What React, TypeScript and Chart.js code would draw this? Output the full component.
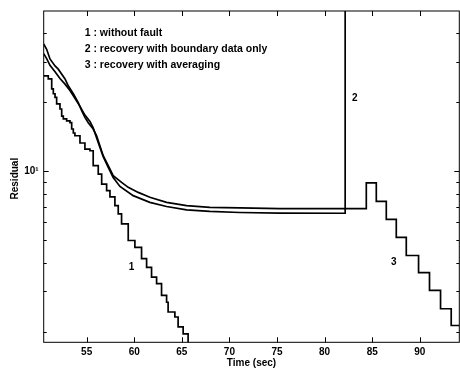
import React, { useEffect, useRef } from 'react';
import { Chart, registerables } from 'chart.js';

Chart.register(...registerables);

// ---- axes ----
const xRange = [50.49, 94.15];
const yRange = [1.8, 50];
const xTickValues = [55, 60, 65, 70, 75, 80, 85, 90];
const yMajorTicks = [10];
const yMinorTicks = [2, 3, 4, 5, 6, 7, 8, 9, 20, 30, 40];
const xTitle = 'Time (sec)';
const yTitle = 'Residual';

// ---- curve 1 : without fault (staircase) ----
const c1X = [50.49, 50.97, 51.33, 51.5, 51.68, 51.85, 52.2, 52.38, 52.55, 52.9, 53.25, 53.43, 53.6, 53.77, 54.3, 54.82, 55.35, 55.69, 56.22, 56.58, 57.1, 57.45, 57.97, 58.32, 58.67, 59.37, 60.07, 60.77, 61.3, 61.82, 62.35, 62.87, 63.4, 63.56, 64.27, 64.61, 65.14, 65.66];
const c1Y = [26.1, 25.3, 22.9, 21.8, 21.0, 19.7, 18.7, 17.4, 16.95, 16.6, 16.3, 15.3, 14.7, 14.3, 13.3, 12.5, 12.3, 10.6, 9.74, 8.81, 8.25, 7.75, 7.09, 6.53, 5.91, 5.0, 4.67, 4.17, 3.82, 3.46, 3.24, 2.88, 2.69, 2.44, 2.32, 2.10, 1.96, 1.7];

// ---- curve 2 : recovery with boundary data only ----
const c2X = [50.49, 50.8, 51.15, 51.68, 52.2, 52.73, 53.25, 53.77, 54.3, 54.82, 55.35, 55.69, 56.05, 56.4, 56.74, 57.27, 57.79, 58.5, 59.89, 61.64, 63.4, 65.5, 67.94, 71.09, 75.3, 82.16, 82.16];
const c2Y = [32.6, 31.0, 29.0, 27.2, 25.4, 24.0, 22.5, 20.8, 19.2, 17.6, 16.5, 15.5, 14.0, 12.7, 11.6, 10.4, 9.4, 8.6, 7.84, 7.33, 7.03, 6.80, 6.69, 6.62, 6.58, 6.57, 60];

// ---- curve 3 : recovery with averaging ----
const c3X = [50.49, 50.8, 51.15, 51.68, 52.02, 52.73, 53.07, 53.6, 54.12, 54.48, 54.82, 55.17, 55.69, 56.05, 56.4, 56.74, 57.27, 57.79, 58.67, 59.37, 60.42, 61.64, 63.4, 65.5, 67.94, 71.09, 75.3, 84.38, 84.38, 85.43, 85.43, 86.48, 86.48, 87.53, 87.53, 88.58, 88.58, 89.87, 89.87, 91.02, 91.02, 92.18, 92.18, 93.3, 93.3, 94.2];
const c3Y = [35.9, 34.05, 30.9, 28.8, 27.9, 25.3, 23.6, 21.8, 19.95, 18.4, 17.2, 16.3, 15.3, 14.3, 12.9, 11.7, 10.6, 9.58, 8.96, 8.52, 8.10, 7.71, 7.33, 7.09, 6.97, 6.93, 6.89, 6.88, 8.91, 8.91, 7.4, 7.4, 6.18, 6.18, 5.16, 5.16, 4.30, 4.30, 3.62, 3.62, 3.03, 3.03, 2.52, 2.52, 2.13, 2.13];

// ---- text annotations ----
const legendLines = ['1 : without fault', '2 : recovery with boundary data only', '3 : recovery with averaging'];
const curveLabels = ['1', '2', '3'];
const curveLabelX = [59.72, 83.16, 87.28];
const curveLabelY = [3.82, 20.77, 4.0];

const FONT_FAMILY = '"Liberation Sans", Arial, Helvetica, sans-serif';

const toPoints = (xs: number[], ys: number[]) => xs.map((x, i) => ({ x, y: ys[i] }));

const framePlugin = {
  id: 'framePlugin',
  afterDraw(chart: any) {
    const { ctx, chartArea } = chart;
    const { left, right, top, bottom } = chartArea;
    const xs = chart.scales.x;
    const ys = chart.scales.y;
    ctx.save();
    ctx.strokeStyle = '#000';
    ctx.lineWidth = 1;
    ctx.strokeRect(left, top, right - left, bottom - top);
    ctx.beginPath();
    xTickValues.forEach((v) => {
      const px = Math.round(xs.getPixelForValue(v)) + 0.5;
      ctx.moveTo(px, bottom);
      ctx.lineTo(px, bottom - 5);
      ctx.moveTo(px, top);
      ctx.lineTo(px, top + 5);
    });
    const yTick = (v: number, len: number) => {
      const py = Math.round(ys.getPixelForValue(v)) + 0.5;
      ctx.moveTo(left, py);
      ctx.lineTo(left + len, py);
      ctx.moveTo(right, py);
      ctx.lineTo(right - len, py);
    };
    yMinorTicks.forEach((v) => yTick(v, 3));
    yMajorTicks.forEach((v) => yTick(v, 5));
    ctx.stroke();

    ctx.fillStyle = '#000';
    ctx.font = `bold 10.5px ${FONT_FAMILY}`;
    ctx.textBaseline = 'middle';
    ctx.textAlign = 'left';
    legendLines.forEach((t, i) => {
      ctx.fillText(t, left + 41, top + 22 + i * 16);
    });
    ctx.font = `bold 10px ${FONT_FAMILY}`;
    ctx.textAlign = 'center';
    curveLabels.forEach((t, i) => {
      ctx.fillText(t, xs.getPixelForValue(curveLabelX[i]), ys.getPixelForValue(curveLabelY[i]));
    });
    ctx.fillText(xTitle, (left + right) / 2, 363);
    ctx.save();
    ctx.translate(15, (top + bottom) / 2 + 2);
    ctx.rotate(-Math.PI / 2);
    ctx.fillText(yTitle, 0, 0);
    ctx.restore();
    ctx.restore();
  },
};

export default function App() {
  const ref = useRef<HTMLCanvasElement | null>(null);
  useEffect(() => {
    if (!ref.current) return;
    const lineStyle = {
      borderColor: '#000',
      borderWidth: 1.7,
      pointRadius: 0,
      fill: false,
      tension: 0,
    };
    const chart = new Chart(ref.current, {
      type: 'line',
      data: {
        datasets: [
          { ...lineStyle, label: legendLines[0], data: toPoints(c1X, c1Y), stepped: 'before' },
          { ...lineStyle, label: legendLines[1], data: toPoints(c2X, c2Y) },
          { ...lineStyle, label: legendLines[2], data: toPoints(c3X, c3Y) },
        ],
      },
      options: {
        animation: false,
        responsive: false,
        maintainAspectRatio: false,
        parsing: false,
        layout: { padding: { top: 10, right: 0.7, left: 0, bottom: 0 } },
        plugins: { legend: { display: false }, tooltip: { enabled: false } },
        scales: {
          x: {
            type: 'linear',
            min: xRange[0],
            max: xRange[1],
            afterBuildTicks: (s: any) => {
              s.ticks = xTickValues.map((v) => ({ value: v }));
            },
            afterFit: (s: any) => {
              s.height = 28.7;
            },
            grid: { display: false, drawTicks: false },
            border: { display: false },
            ticks: {
              color: '#000',
              font: { family: FONT_FAMILY, size: 10, weight: 'bold' },
              padding: 4,
              maxRotation: 0,
              autoSkip: false,
              callback: (v: any) => String(v),
            },
          },
          y: {
            type: 'logarithmic',
            min: yRange[0],
            max: yRange[1],
            afterBuildTicks: (s: any) => {
              s.ticks = [...yMinorTicks, ...yMajorTicks].sort((a, b) => a - b).map((v) => ({ value: v }));
            },
            afterFit: (s: any) => {
              s.width = 43.7;
            },
            grid: { display: false, drawTicks: false },
            border: { display: false },
            ticks: {
              color: '#000',
              font: { family: FONT_FAMILY, size: 10, weight: 'bold' },
              padding: 5,
              autoSkip: false,
              callback: (v: any) => (yMajorTicks.includes(Number(v)) ? '10¹' : ''),
            },
          },
        },
      },
      plugins: [framePlugin],
    } as any);
    return () => chart.destroy();
  }, []);
  return (
    <div style={{ position: 'absolute', left: 0, top: 0, width: 460, height: 371, background: '#fff' }}>
      <canvas ref={ref} width={460} height={371} style={{ width: 460, height: 371 }} />
    </div>
  );
}
